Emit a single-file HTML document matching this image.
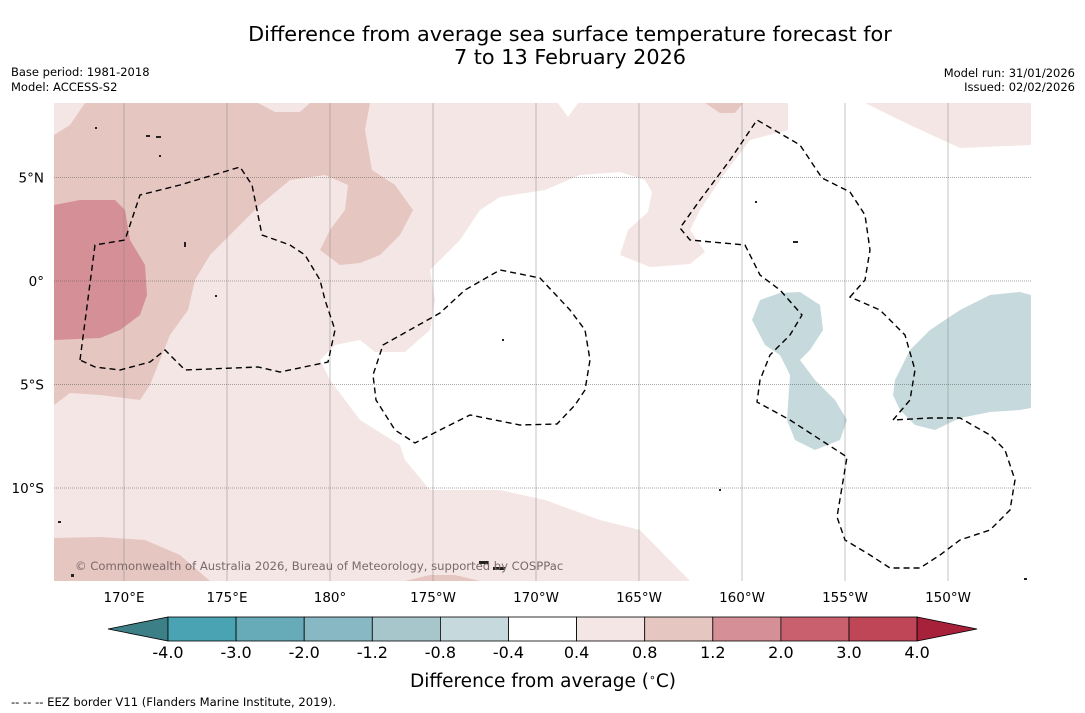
<!DOCTYPE html>
<html><head><meta charset="utf-8"><style>
body{margin:0;background:#fff;width:1085px;height:713px;overflow:hidden;font-family:"DejaVu Sans","Liberation Sans",sans-serif}
svg{position:absolute;left:0;top:0}
</style></head><body>
<svg width="1085" height="713" font-family="DejaVu Sans, Liberation Sans, sans-serif">
<text x="570" y="41" font-size="20.8" text-anchor="middle">Difference from average sea surface temperature forecast for</text>
<text x="570" y="64" font-size="20.8" text-anchor="middle">7 to 13 February 2026</text>
<text x="11" y="76" font-size="11.5">Base period: 1981-2018</text>
<text x="11" y="91" font-size="11.5">Model: ACCESS-S2</text>
<text x="1075" y="77" font-size="11.5" text-anchor="end">Model run: 31/01/2026</text>
<text x="1075" y="91" font-size="11.5" text-anchor="end">Issued: 02/02/2026</text>
<defs><clipPath id="mc"><rect x="54" y="103" width="977" height="478"/></clipPath></defs>
<g clip-path="url(#mc)">
<rect x="54" y="103" width="977" height="478" fill="#f4e6e4"/>
<path fill="#fff" d="M690,581 L640,530 L600,520 L545,500 L500,490 L430,490 L405,460 L400,445 L360,420 L330,380 L320,360 L335,345 L360,340 L375,352 L405,352 L430,330 L435,300 L430,270 L460,240 L480,210 L500,197 L545,190 L580,175 L620,172 L645,180 L652,192 L648,212 L628,230 L620,255 L650,267 L690,264 L705,252 L690,230 L700,210 L720,180 L750,140 L788,130 L788,103 L865,103 L910,125 L960,148 L1031,145 L1031,581 Z M558,103 L568,117 L578,103 Z"/>
<path fill="#e6c6c1" d="M85,103 L258,103 L275,112 L300,112 L310,103 L370,103 L365,130 L372,170 L395,185 L413,210 L400,235 L380,255 L360,263 L340,265 L320,250 L330,230 L345,210 L348,185 L325,175 L290,180 L260,205 L230,235 L210,255 L195,280 L188,310 L170,335 L160,360 L150,385 L140,400 L100,395 L70,393 L54,405 L54,135 L70,125 Z"/>
<path fill="#e6c6c1" d="M54,538 L100,537 L145,540 L180,555 L210,581 L54,581 Z M405,581 L430,575 L455,575 L480,581 Z M705,103 L743,103 L735,113 L720,113 Z"/>
<path fill="#d48f97" d="M54,205 L80,200 L115,200 L125,210 L130,240 L145,265 L147,295 L140,315 L120,330 L100,338 L54,340 Z"/>
<path fill="#c6d9dc" d="M760,300 L780,293 L800,292 L820,305 L823,330 L810,350 L800,360 L815,380 L835,400 L847,420 L840,440 L815,450 L795,440 L787,420 L790,375 L780,355 L765,345 L752,320 Z"/>
<path fill="#c6d9dc" d="M895,380 L910,350 L930,330 L960,310 L990,295 L1020,292 L1031,295 L1031,408 L1020,410 L990,412 L960,418 L935,430 L915,425 L900,410 L893,395 Z"/>
<g id="grid"></g>
<g fill="none" stroke="#000" stroke-width="1.4" stroke-dasharray="6,4">
<path d="M80,360 L95,245 L125,240 L140,195 L180,185 L240,167 L252,185 L262,235 L290,245 L305,255 L320,280 L325,300 L335,330 L328,362 L280,372 L258,367 L185,370 L165,350 L150,362 L120,370 L95,367 Z"/>
<path d="M383,345 L440,313 L465,290 L500,270 L540,278 L570,310 L585,330 L590,360 L585,390 L575,405 L557,424 L520,425 L470,415 L440,430 L415,443 L395,430 L376,400 L373,375 Z"/>
<path d="M850,297 L865,280 L870,250 L865,215 L850,192 L822,178 L800,145 L757,120 L730,160 L700,200 L680,228 L690,240 L745,245 L760,275 L780,290 L802,315 L790,335 L770,355 L760,380 L757,402 L790,420 L847,457 L837,517 L845,540 L870,555 L890,568 L920,568 L940,555 L960,540 L990,530 L1010,510 L1015,480 L1005,450 L990,435 L960,418 L930,418 L893,420 L910,400 L915,370 L905,335 L880,310 Z"/>
</g>
<g fill="#222">
<rect x="479" y="561" width="10" height="3"/><rect x="493" y="567" width="12" height="3"/><rect x="58" y="521" width="3" height="2"/><rect x="71" y="574" width="3" height="3"/><rect x="146" y="135" width="4" height="2"/><rect x="156" y="136" width="5" height="2"/><rect x="184" y="242" width="2" height="5"/><rect x="793" y="241" width="5" height="2"/><rect x="755" y="201" width="2" height="2"/><rect x="1024" y="578" width="3" height="2"/><rect x="502" y="339" width="2" height="2"/><rect x="95" y="127" width="2" height="2"/><rect x="159" y="155" width="2" height="2"/><rect x="215" y="295" width="2" height="2"/><rect x="719" y="489" width="2" height="2"/>
</g>
<text x="75" y="570" font-size="11.6" fill="#7a6a6a">© Commonwealth of Australia 2026, Bureau of Meteorology, supported by COSPPac</text>
</g>
<g id="axes"></g>
<g id="cbar"></g>
<text x="543" y="687" font-size="18.5" text-anchor="middle">Difference from average (<tspan baseline-shift="super" font-size="11">∘</tspan>C)</text>
<text x="11" y="706" font-size="11.6">--  --  -- EEZ border V11 (Flanders Marine Institute, 2019).</text>
</svg>
<script>
const NS="http://www.w3.org/2000/svg";
const lonLabels=["170°E","175°E","180°","175°W","170°W","165°W","160°W","155°W","150°W"];
const lonValues=[170,175,180,185,190,195,200,205,210];
const latLabels=["5°N","0°","5°S","10°S"];
const latValues=[5,0,-5,-10];
const cbarTicks=["-4.0","-3.0","-2.0","-1.2","-0.8","-0.4","0.4","0.8","1.2","2.0","3.0","4.0"];
const cbarColors=["#4aa3b2","#67abb9","#88b8c3","#a7c6cc","#c6d9dc","#ffffff","#f4e6e4","#e6c6c1","#d48f97","#c8616d","#be4656"];
function xLon(l){return 124+(l-170)*20.6;}
function yLat(l){return 281-l*20.7;}
function mk(t,a,p){const e=document.createElementNS(NS,t);for(const k in a)e.setAttribute(k,a[k]);p.appendChild(e);return e;}
const grid=document.getElementById('grid'),axes=document.getElementById('axes'),cb=document.getElementById('cbar');
lonValues.forEach((v,i)=>{const x=xLon(v);
const l=mk('line',{x1:x,x2:x,y1:103,y2:581,stroke:'#888','stroke-width':0.5},grid);


const t=mk('text',{x:x,y:602,'font-size':13.5,'text-anchor':'middle'},axes);t.textContent=lonLabels[i];

});
latValues.forEach((v,i)=>{const y=yLat(v);
const l=mk('line',{x1:54,x2:1031,y1:y,y2:y,stroke:'#555','stroke-width':0.6,'stroke-dasharray':'1,1'},grid);


const t=mk('text',{x:44,y:y+5,'font-size':13.5,'text-anchor':'end'},axes);t.textContent=latLabels[i];

});
const x0=168,bw=68.1,y0=617,h=24;
let p=mk('polygon',{points:`${x0},${y0} ${x0},${y0+h} 108,${y0+h/2}`,fill:'#3c7f87',stroke:'#000','stroke-width':0.8},cb);


cbarColors.forEach((c,i)=>{const r=mk('rect',{x:x0+i*bw,y:y0,width:bw,height:h,fill:c,stroke:'#000','stroke-width':0.8},cb);

});
const xe=x0+cbarColors.length*bw;
p=mk('polygon',{points:`${xe},${y0} ${xe},${y0+h} ${xe+60},${y0+h/2}`,fill:'#a7213a',stroke:'#000','stroke-width':0.8},cb);


cbarTicks.forEach((t,i)=>{const e=mk('text',{x:x0+i*bw,y:658,'font-size':16,'text-anchor':'middle'},cb);e.textContent=t;

});
</script>
</body></html>
